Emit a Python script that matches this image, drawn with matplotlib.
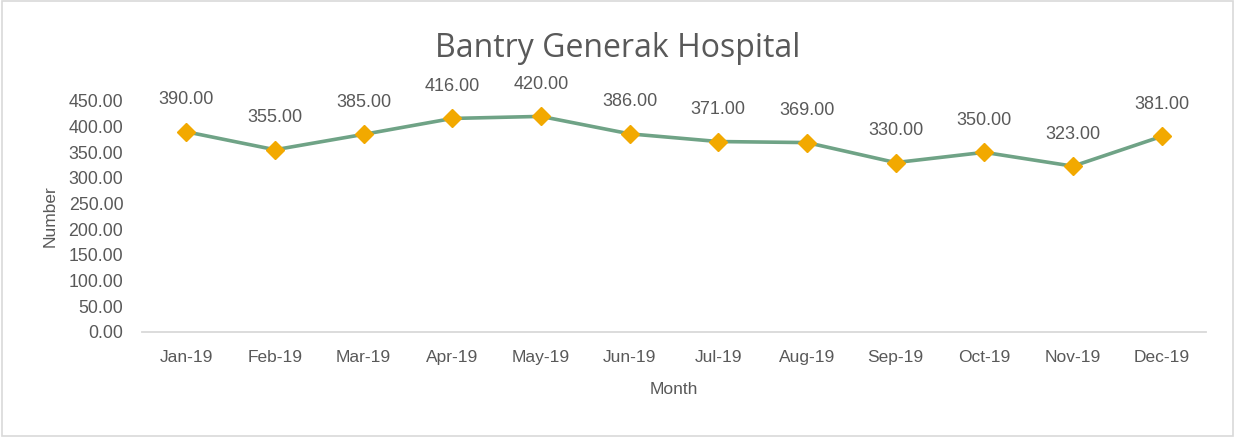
import matplotlib.pyplot as plt
from matplotlib.patches import Rectangle

months = ["Jan-19", "Feb-19", "Mar-19", "Apr-19", "May-19", "Jun-19",
          "Jul-19", "Aug-19", "Sep-19", "Oct-19", "Nov-19", "Dec-19"]
values = [390, 355, 385, 416, 420, 386, 371, 369, 330, 350, 323, 381]
yticks = [0, 50, 100, 150, 200, 250, 300, 350, 400, 450]

narrow = ["Liberation Sans", "DejaVu Sans"]
txt = "#595959"

fig = plt.figure(figsize=(12.35, 4.37), dpi=100)
fig.patches.append(Rectangle((0.002, 0.003), 0.996, 0.994, transform=fig.transFigure,
                             fill=False, edgecolor="#d9d9d9", linewidth=1.2))

ax = fig.add_axes([0.115, 0.2403, 0.8615, 0.5286])
x = list(range(len(months)))
ax.plot(x, values, color="#6fa386", linewidth=2.6, marker="D",
        markersize=9, markerfacecolor="#f2a900", markeredgecolor="#f2a900", zorder=3)

for xi, v in zip(x, values):
    ax.annotate(f"{v:.2f}", (xi, v), xytext=(0, 23), textcoords="offset points",
                ha="center", va="center", fontsize=13, color=txt, family=narrow)

ax.set_xlim(-0.5, 11.5)
ax.set_ylim(0, 450)
ax.set_xticks(x)
ax.set_xticklabels(months, family=narrow, fontsize=12.5, color=txt)
ax.set_yticks(yticks)
ax.set_yticklabels([f"{t:.2f}" for t in yticks], family=narrow, fontsize=12.8, color=txt)
ax.tick_params(length=0, pad=13)
ax.tick_params(axis="y", pad=13.5)

for s in ["top", "right", "left"]:
    ax.spines[s].set_visible(False)
ax.spines["bottom"].set_color("#d9d9d9")
ax.spines["bottom"].set_linewidth(1.3)

ax.set_xlabel("Month", family=narrow, fontsize=12.5, color=txt, labelpad=12)
ax.set_ylabel("Number", family=narrow, fontsize=12.5, color=txt, labelpad=8)

fig.text(0.5, 0.89, "Bantry Generak Hospital", ha="center", va="center",
         fontsize=23, color=txt, family=["Open Sans", "DejaVu Sans"])

fig.savefig("out.png", dpi=100)
